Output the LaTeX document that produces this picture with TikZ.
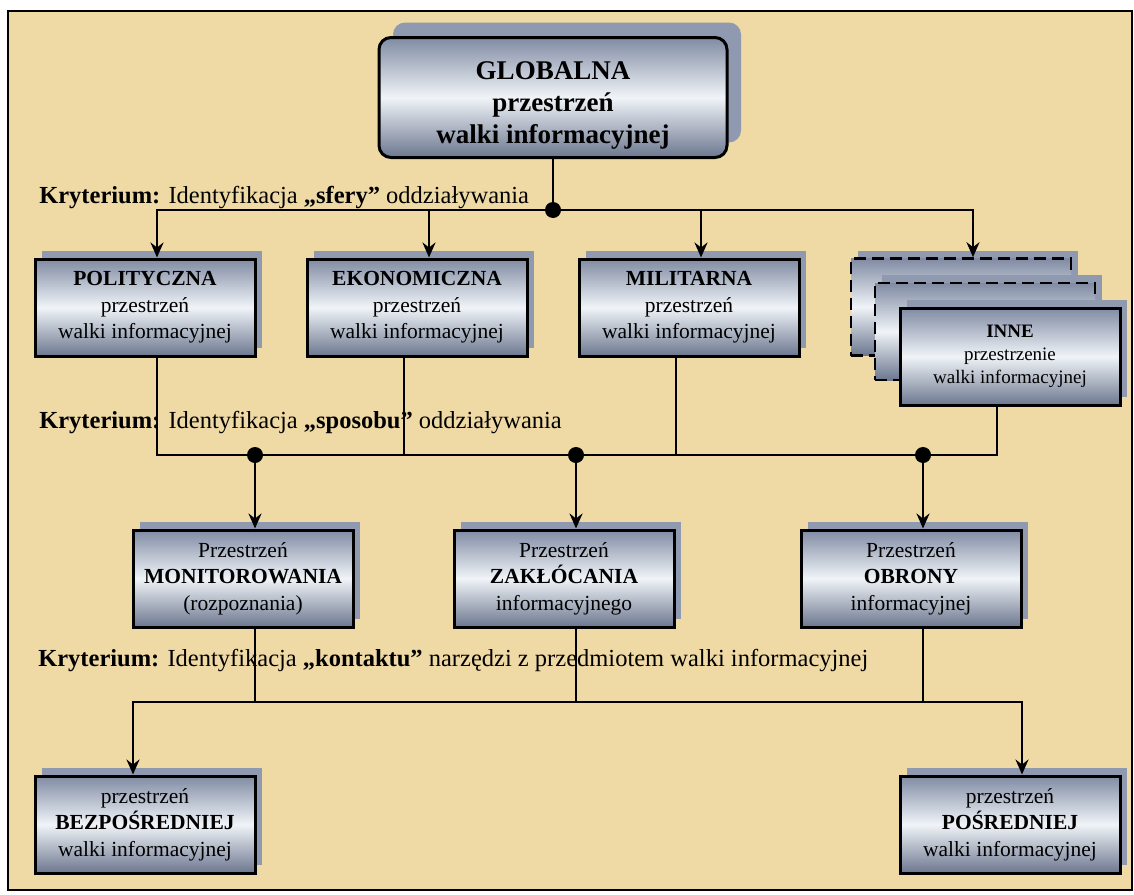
\documentclass[tikz,border=0pt]{standalone}
\usepackage{fontspec}
\setmainfont{Liberation Serif}
\usetikzlibrary{arrows.meta,shadows}

\definecolor{paper}{RGB}{239,217,164}
\definecolor{boxtop}{RGB}{128,139,163}
\definecolor{boxmid}{RGB}{240,244,248}
\definecolor{boxbot}{RGB}{108,119,143}
\definecolor{shadowc}{RGB}{143,154,176}

\tikzset{
  panel/.style={draw, line width=3pt, align=center, inner sep=2pt,
    top color=boxtop, bottom color=boxbot, middle color=boxmid},
  box/.style={panel, minimum width=220pt, minimum height=97pt,
    drop shadow={shadow xshift=7pt, shadow yshift=8pt, fill=shadowc, opacity=1},
    font=\fontsize{21.5}{26.5}\selectfont},
  topbox/.style={panel, rounded corners=12pt, minimum width=348pt, minimum height=120pt,
    drop shadow={shadow xshift=14pt, shadow yshift=15pt, fill=shadowc, opacity=1},
    font=\bfseries\fontsize{27}{32}\selectfont},
  ghost/.style={box, dash pattern=on 12pt off 6pt, line width=2.6pt},
  arr/.style={-{Stealth[length=15pt,width=13pt,inset=5pt]}},
  krit/.style={anchor=base west, inner sep=0pt, font=\fontsize{24.5}{29}\selectfont}
}

\begin{document}
\begin{tikzpicture}[x=1pt, y=-1pt, line width=2.6pt]
  \fill[white] (0,0) rectangle (1134,894);
  \useasboundingbox (0,0) rectangle (1134,894);
  \draw[fill=paper, line width=2pt] (8,11) rectangle (1132,890);

  % poziom 1
  \node[topbox] (glob) at (553,97.5) {GLOBALNA\rule{0pt}{33pt}\\przestrzeń\\walki informacyjnej};

  % poziom 2
  \node[ghost] (d1) at (961,307) {};
  \node[ghost] (d2) at (985,331.5) {};
  \node[box, font=\fontsize{19}{23}\selectfont] (inne) at (1010,356.5) {\textbf{INNE}\\przestrzenie\\walki informacyjnej};
  \node[box] (pol) at (145,307.5) {\textbf{POLITYCZNA}\\przestrzeń\\walki informacyjnej};
  \node[box] (eko) at (417,307.5) {\textbf{EKONOMICZNA}\\przestrzeń\\walki informacyjnej};
  \node[box] (mil) at (689,307.5) {\textbf{MILITARNA}\\przestrzeń\\walki informacyjnej};

  % poziom 3
  \node[box] (mon) at (243,578.5) {Przestrzeń\\\textbf{MONITOROWANIA}\\(rozpoznania)};
  \node[box] (zak) at (564,578.5) {Przestrzeń\\\textbf{ZAKŁÓCANIA}\\informacyjnego};
  \node[box] (obr) at (911,578.5) {Przestrzeń\\\textbf{OBRONY}\\informacyjnej};

  % poziom 4
  \node[box] (bez) at (145,824.5) {przestrzeń\\\textbf{BEZPOŚREDNIEJ}\\walki informacyjnej};
  \node[box] (pos) at (1010,824.5) {przestrzeń\\\textbf{POŚREDNIEJ}\\walki informacyjnej};

  % kryteria
  \node[krit] (k1) at (38,203) {\textbf{Kryterium:} Identyfikacja \textbf{„sfery”} oddziaływania};
  \node[krit] (k2) at (38,428) {\textbf{Kryterium:} Identyfikacja \textbf{„sposobu”} oddziaływania};
  \node[krit] (k3) at (37,666) {\textbf{Kryterium:} Identyfikacja \textbf{„kontaktu”} narzędzi z przedmiotem walki informacyjnej};

  \coordinate (j1) at (553,210);
  \coordinate (j2) at (255,455);
  \coordinate (j3) at (576,455);
  \coordinate (j4) at (923,455);
  \coordinate (c1) at (133,702);
  \coordinate (c2) at (1022,702);

  \draw (glob) -- (j1);
  \draw[arr] (j1) -| ([xshift=12pt]pol.north);
  \draw[arr] (j1) -| ([xshift=12pt]eko.north);
  \draw[arr] (j1) -| ([xshift=12pt]mil.north);
  \draw[arr] (j1) -| ([xshift=12pt]d1.north);

  \draw ([xshift=12pt]pol.south) |- (j4);
  \draw ([xshift=-13pt]eko.south) |- (j3);
  \draw ([xshift=-13pt]mil.south) |- (j4);
  \draw ([xshift=-13pt]inne.south) |- (j4);
  \draw[arr] (j2) -- ([xshift=12pt]mon.north);
  \draw[arr] (j3) -- ([xshift=12pt]zak.north);
  \draw[arr] (j4) -- ([xshift=12pt]obr.north);

  \draw[arr] ([xshift=12pt]zak.south) |- (c1) -- ([xshift=-12pt]bez.north);
  \draw[arr] ([xshift=12pt]mon.south) |- (c2) -- ([xshift=12pt]pos.north);
  \draw ([xshift=12pt]obr.south) |- (c2);

  \foreach \j in {j1,j2,j3,j4}
    \fill (\j) circle (8pt);
\end{tikzpicture}
\end{document}
